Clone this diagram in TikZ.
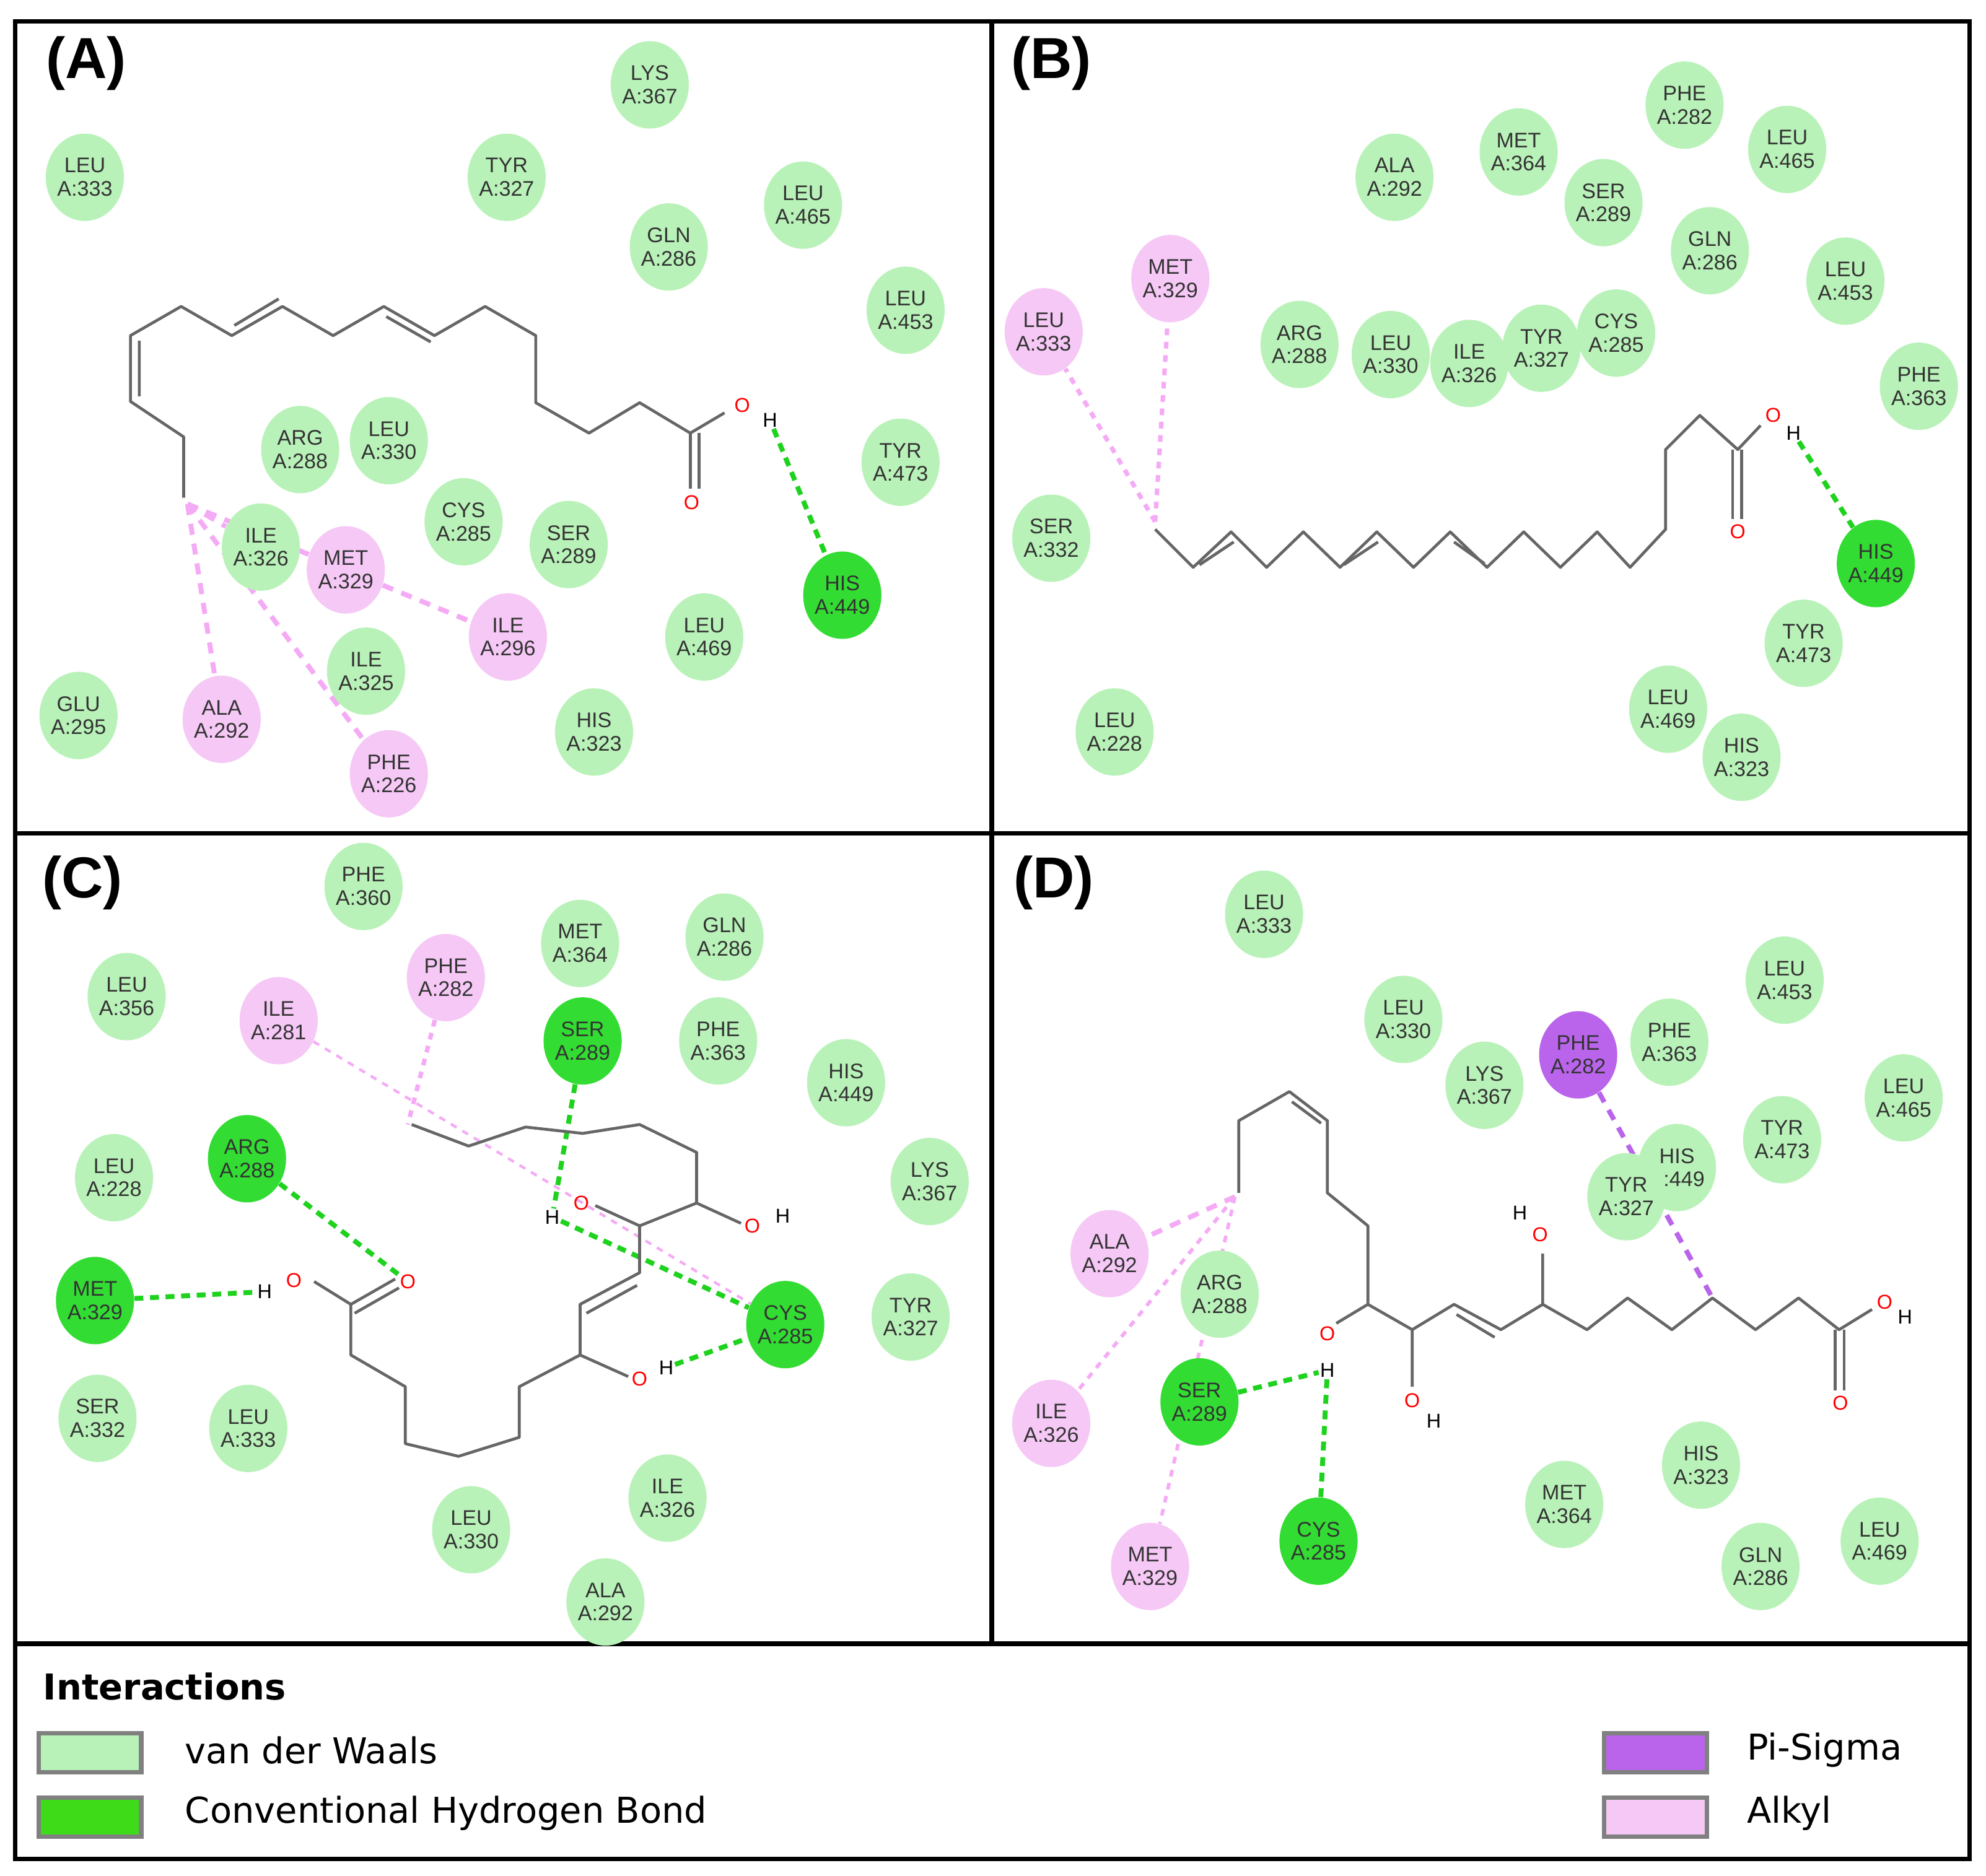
\documentclass[tikz,border=0pt]{standalone}
\usepackage{fontspec}
\setmainfont{Liberation Sans}
\newfontfamily\legf{DejaVu Sans}
\usetikzlibrary{shapes.geometric,backgrounds}
\definecolor{vdw}{RGB}{185,242,185}
\definecolor{hb}{RGB}{50,220,50}
\definecolor{alk}{RGB}{246,200,246}
\definecolor{pis}{RGB}{185,100,235}
\definecolor{hbl}{RGB}{30,210,30}
\definecolor{alkl}{RGB}{245,170,245}
\begin{document}
\begin{tikzpicture}[x=0.02cm,y=-0.02cm,
 res/.style={ellipse,fill=vdw,minimum width=1.12cm,minimum height=1.38cm,inner sep=0pt,align=center,font=\fontsize{9.5}{10.5}\selectfont,text=black!80},
 hbr/.style={res,fill=hb},
 alr/.style={res,fill=alk},
 pir/.style={res,fill=pis},
 lig/.style={gray!80!black,line width=1.3pt,line join=round},
 ox/.style={red,font=\fontsize{9}{9}\selectfont,inner sep=0.5pt},
 hy/.style={black,font=\fontsize{9}{9}\selectfont,inner sep=0.5pt},
 hbond/.style={hbl,dashed,line width=2.2pt,dash pattern=on 4pt off 3pt},
 alkyl/.style={alkl,dashed,line width=2.2pt,dash pattern=on 5pt off 4pt},
 alkt/.style={alkl,dashed,line width=1.2pt},
 pisg/.style={pis,dashed,line width=2.2pt,dash pattern=on 5pt off 4pt},
 plab/.style={font=\bfseries\fontsize{26}{28}\selectfont},
 box/.style={line width=2pt}]
\useasboundingbox (0,0) rectangle (1568,1481);
\begin{scope}[on background layer]
\fill[white] (0,0) rectangle (1568,1481);
\end{scope}
% ---------- frames
\draw[box] (12,17) rectangle (1555,1468);
\draw[box] (783,17) -- (783,1298);
\draw[box] (12,658) -- (1555,658);
\draw[box] (12,1298) -- (1555,1298);
\node[plab] (la) at (68,50) {(A)};
\node[plab] (lb) at (830,50) {(B)};
\node[plab] (lc) at (65,697) {(C)};
\node[plab] (ld) at (832,697) {(D)};
% ================= Panel A
\node[res] (a1) at (67,140) {LEU\\A:333};
\node[res] (a2) at (513,67) {LYS\\A:367};
\node[res] (a3) at (400,140) {TYR\\A:327};
\node[res] (a4) at (634,162) {LEU\\A:465};
\node[res] (a5) at (528,195) {GLN\\A:286};
\node[res] (a6) at (715,245) {LEU\\A:453};
\node[res] (a7) at (237,355) {ARG\\A:288};
\node[res] (a8) at (307,348) {LEU\\A:330};
\node[res] (a9) at (711,365) {TYR\\A:473};
\node[res] (a10) at (366,412) {CYS\\A:285};
\node[res] (a11) at (449,430) {SER\\A:289};
\node[res] (a12) at (206,432) {ILE\\A:326};
\node[alr] (a13) at (273,450) {MET\\A:329};
\node[alr] (a14) at (401,503) {ILE\\A:296};
\node[hbr] (a15) at (665,470) {HIS\\A:449};
\node[res] (a16) at (556,503) {LEU\\A:469};
\node[res] (a17) at (289,530) {ILE\\A:325};
\node[res] (a18) at (62,565) {GLU\\A:295};
\node[alr] (a19) at (175,568) {ALA\\A:292};
\node[alr] (a20) at (307,611) {PHE\\A:226};
\node[res] (a21) at (469,578) {HIS\\A:323};
\draw[lig] (145,393) -- (145,345) -- (103,317) -- (103,265) -- (143,242) -- (183,265) -- (223,242) -- (263,265) -- (303,242) -- (343,265) -- (383,242) -- (423,265) -- (423,318) -- (465,342) -- (505,318) -- (545,342) -- (572,326);
\draw[lig] (110,313) -- (110,269) (185,257) -- (220,236) (305,250) -- (340,270);
\draw[lig] (545,342) -- (545,386) (552,342) -- (552,386);
\node[ox] (aO1) at (586,320) {O};
\node[hy] (aH1) at (608,332) {H};
\node[ox] (aO2) at (546,397) {O};
\coordinate (aC) at (148,398);
\begin{scope}[on background layer]
\draw[hbond] (aH1) -- (a15);
\draw[alkyl] (aC) -- (a12);
\draw[alkyl] (aC) -- (a13);
\draw[alkyl] (a13) -- (a14);
\draw[alkyl] (aC) -- (a19);
\draw[alkyl] (aC) -- (a20);
\end{scope}
% ================= Panel B
\node[res] (b1) at (1330,83) {PHE\\A:282};
\node[res] (b2) at (1411,118) {LEU\\A:465};
\node[res] (b3) at (1199,120) {MET\\A:364};
\node[res] (b4) at (1101,140) {ALA\\A:292};
\node[res] (b5) at (1266,160) {SER\\A:289};
\node[res] (b6) at (1350,198) {GLN\\A:286};
\node[res] (b7) at (1457,222) {LEU\\A:453};
\node[alr] (b8) at (924,220) {MET\\A:329};
\node[alr] (b9) at (824,262) {LEU\\A:333};
\node[res] (b10) at (1026,272) {ARG\\A:288};
\node[res] (b11) at (1098,280) {LEU\\A:330};
\node[res] (b12) at (1160,287) {ILE\\A:326};
\node[res] (b13) at (1217,275) {TYR\\A:327};
\node[res] (b14) at (1276,263) {CYS\\A:285};
\node[res] (b15) at (1515,305) {PHE\\A:363};
\node[res] (b16) at (830,425) {SER\\A:332};
\node[hbr] (b17) at (1481,445) {HIS\\A:449};
\node[res] (b18) at (1424,508) {TYR\\A:473};
\node[res] (b19) at (1317,560) {LEU\\A:469};
\node[res] (b20) at (1375,598) {HIS\\A:323};
\node[res] (b21) at (880,578) {LEU\\A:228};
\draw[lig] (912,418) -- (942,448) -- (972,420) -- (1000,448) -- (1029,420) -- (1058,448) -- (1087,420) -- (1116,448) -- (1145,420) -- (1174,448) -- (1203,420) -- (1232,448) -- (1261,420) -- (1287,448) -- (1315,418) -- (1315,355) -- (1342,328) -- (1372,355) -- (1390,336);
\draw[lig] (947,446) -- (974,428) (1061,446) -- (1088,428) (1148,428) -- (1172,445);
\draw[lig] (1368,355) -- (1368,410) (1375,355) -- (1375,410);
\node[ox] (bO1) at (1400,328) {O};
\node[hy] (bH1) at (1416,342) {H};
\node[ox] (bO2) at (1372,420) {O};
\coordinate (bC) at (912,412);
\begin{scope}[on background layer]
\draw[hbond] (bH1) -- (b17);
\draw[alkt,line width=2pt] (bC) -- (b9);
\draw[alkt,line width=2pt] (bC) -- (b8);
\end{scope}
% ================= Panel C
\node[res] (c1) at (287,700) {PHE\\A:360};
\node[res] (c2) at (458,745) {MET\\A:364};
\node[res] (c3) at (572,740) {GLN\\A:286};
\node[alr] (c4) at (352,772) {PHE\\A:282};
\node[res] (c5) at (100,787) {LEU\\A:356};
\node[alr] (c6) at (220,806) {ILE\\A:281};
\node[hbr] (c7) at (460,822) {SER\\A:289};
\node[res] (c8) at (567,822) {PHE\\A:363};
\node[res] (c9) at (668,855) {HIS\\A:449};
\node[hbr] (c10) at (195,915) {ARG\\A:288};
\node[res] (c11) at (90,930) {LEU\\A:228};
\node[res] (c12) at (734,933) {LYS\\A:367};
\node[hbr] (c13) at (75,1027) {MET\\A:329};
\node[res] (c14) at (719,1040) {TYR\\A:327};
\node[hbr] (c15) at (620,1046) {CYS\\A:285};
\node[res] (c16) at (77,1120) {SER\\A:332};
\node[res] (c17) at (196,1128) {LEU\\A:333};
\node[res] (c18) at (527,1183) {ILE\\A:326};
\node[res] (c19) at (372,1208) {LEU\\A:330};
\node[res] (c20) at (478,1265) {ALA\\A:292};
\draw[lig] (248,1012) -- (277,1030) -- (277,1070) -- (320,1095) -- (320,1140) -- (362,1150) -- (410,1135) -- (410,1095) -- (458,1070) -- (458,1030) -- (505,1005) -- (505,968) -- (550,950) -- (550,910) -- (505,888) -- (460,895) -- (415,890) -- (370,905) -- (325,888);
\draw[lig] (277,1030) -- (312,1010) (280,1037) -- (315,1017);
\draw[lig] (463,1037) -- (503,1015);
\draw[lig] (458,1070) -- (496,1087) (505,968) -- (470,952) (550,950) -- (585,966);
\node[ox] (cO1) at (232,1011) {O};
\node[hy] (cH1) at (209,1020) {H};
\node[ox] (cO2) at (322,1012) {O};
\node[ox] (cO3) at (505,1089) {O};
\node[hy] (cH3) at (526,1080) {H};
\node[ox] (cO4) at (459,950) {O};
\node[hy] (cH4) at (436,961) {H};
\node[ox] (cO5) at (594,968) {O};
\node[hy] (cH5) at (618,960) {H};
\coordinate (cC) at (322,888);
\begin{scope}[on background layer]
\draw[hbond] (c10) -- (cO2);
\draw[hbond] (c13) -- (cH1);
\draw[hbond] (c7) -- (cH4);
\draw[hbond] (cH4) -- (c15);
\draw[hbond] (cH3) -- (c15);
\draw[alkt,line width=2pt] (c4) -- (cC);
\draw[alkt] (c6) -- (c15);
\end{scope}
% ================= Panel D
\node[res] (d1) at (998,722) {LEU\\A:333};
\node[res] (d2) at (1108,805) {LEU\\A:330};
\node[res] (d3) at (1172,857) {LYS\\A:367};
\node[pir] (d4) at (1246,833) {PHE\\A:282};
\node[res] (d5) at (1318,823) {PHE\\A:363};
\node[res] (d6) at (1409,774) {LEU\\A:453};
\node[res] (d7) at (1503,867) {LEU\\A:465};
\node[res] (d8) at (1407,900) {TYR\\A:473};
\node[res] (d9) at (1324,922) {HIS\\A:449};
\node[res] (d10) at (1284,945) {TYR\\A:327};
\node[alr] (d11) at (876,990) {ALA\\A:292};
\node[res] (d12) at (963,1022) {ARG\\A:288};
\node[alr] (d13) at (830,1124) {ILE\\A:326};
\node[hbr] (d14) at (947,1107) {SER\\A:289};
\node[hbr] (d15) at (1041,1217) {CYS\\A:285};
\node[alr] (d16) at (908,1237) {MET\\A:329};
\node[res] (d17) at (1235,1188) {MET\\A:364};
\node[res] (d18) at (1343,1157) {HIS\\A:323};
\node[res] (d19) at (1390,1237) {GLN\\A:286};
\node[res] (d20) at (1484,1217) {LEU\\A:469};
\draw[lig] (978,942) -- (978,885) -- (1018,862) -- (1048,885) -- (1048,942) -- (1080,968) -- (1080,1030) -- (1115,1050) -- (1148,1030) -- (1185,1050) -- (1218,1030) -- (1253,1050) -- (1285,1025) -- (1320,1050) -- (1352,1025) -- (1386,1050) -- (1420,1025) -- (1452,1050) -- (1478,1034);
\draw[lig] (1020,870) -- (1043,887) (1150,1038) -- (1180,1056);
\draw[lig] (1080,1030) -- (1055,1045) (1115,1050) -- (1115,1095) (1218,1030) -- (1218,990);
\draw[lig] (1449,1050) -- (1449,1098) (1456,1050) -- (1456,1098);
\node[ox] (dO1) at (1048,1053) {O};
\node[hy] (dH1) at (1048,1082) {H};
\node[ox] (dO2) at (1115,1106) {O};
\node[hy] (dH2) at (1132,1122) {H};
\node[ox] (dO3) at (1216,975) {O};
\node[hy] (dH3) at (1200,958) {H};
\node[ox] (dO4) at (1488,1028) {O};
\node[hy] (dH4) at (1504,1040) {H};
\node[ox] (dO5) at (1453,1108) {O};
\coordinate (dC) at (975,945);
\coordinate (dP) at (1352,1025);
\begin{scope}[on background layer]
\draw[hbond] (d14) -- (dH1);
\draw[hbond] (d15) -- (dH1);
\draw[pisg] (d4) -- (dP);
\draw[alkyl] (dC) -- (d11);
\draw[alkt,line width=1.6pt] (dC) -- (d13);
\draw[alkt,line width=1.6pt] (dC) -- (d16);
\end{scope}
% ================= Legend
\node[anchor=west,font=\legf\bfseries\fontsize{16}{18}\selectfont] (lt) at (28,1332) {Interactions};
\node[draw=gray,line width=2pt,fill=vdw,minimum width=1.62cm,minimum height=0.62cm] (s1) at (71,1384) {};
\node[draw=gray,line width=2pt,fill=hbl!80!lime,minimum width=1.62cm,minimum height=0.62cm] (s2) at (71,1435) {};
\node[draw=gray,line width=2pt,fill=pis,minimum width=1.62cm,minimum height=0.62cm] (s3) at (1307,1384) {};
\node[draw=gray,line width=2pt,fill=alk,minimum width=1.62cm,minimum height=0.62cm] (s4) at (1307,1435) {};
\node[anchor=west,font=\legf\fontsize{16}{18}\selectfont] (t1) at (140,1382) {van der Waals};
\node[anchor=west,font=\legf\fontsize{16}{18}\selectfont] (t2) at (140,1432) {Conventional Hydrogen Bond};
\node[anchor=west,font=\legf\fontsize{16}{18}\selectfont] (t3) at (1373,1382) {Pi-Sigma};
\node[anchor=west,font=\legf\fontsize{16}{18}\selectfont] (t4) at (1373,1432) {Alkyl};
\end{tikzpicture}
\end{document}
